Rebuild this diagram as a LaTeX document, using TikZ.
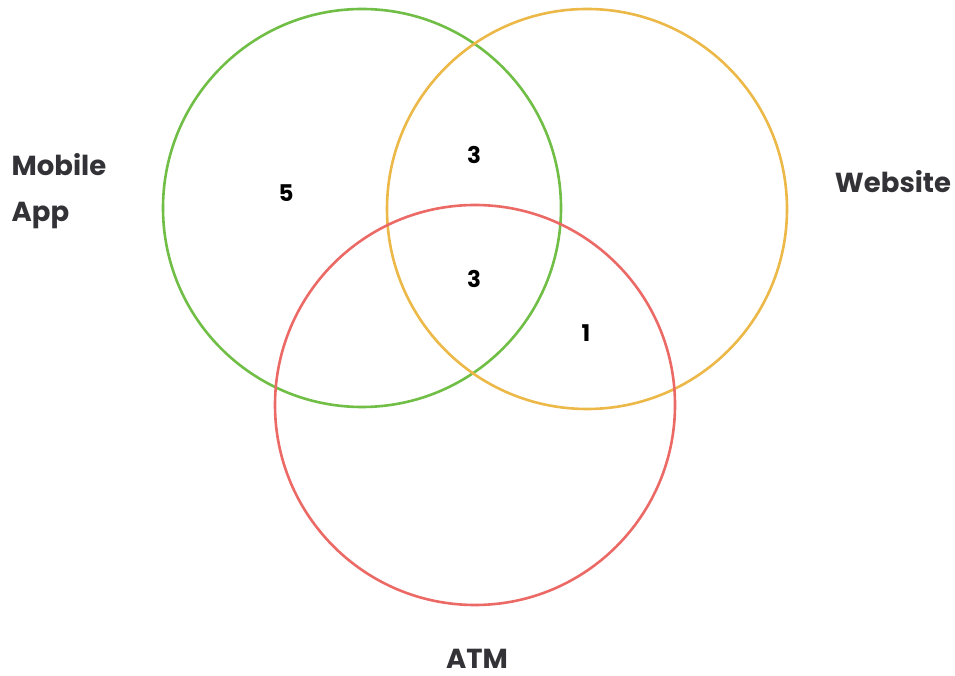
\documentclass[tikz,border=0pt]{standalone}
\usepackage{fontspec}
\setmainfont{Poppins}
\usepackage{xcolor}
\usetikzlibrary{positioning}
\definecolor{appcolor}{RGB}{112,190,70}
\definecolor{webcolor}{RGB}{236,184,72}
\definecolor{atmcolor}{RGB}{236,106,102}
\definecolor{labelcolor}{RGB}{50,50,55}

\begin{document}
\begin{tikzpicture}[
  x=1pt, y=1pt,
  ring/.style={draw, circle, line width=2.6pt, inner sep=0pt},
  setlabel/.style={font=\bfseries\fontsize{27.5}{46}\selectfont, text=labelcolor,
                   align=left, inner sep=1pt},
  count/.style={font=\bfseries\fontsize{23}{25}\selectfont, text=black}
]
\useasboundingbox (0,0) rectangle (955,675);

\node[ring, appcolor, minimum size=398pt] (app) at (362,467) {};
\node[ring, webcolor, minimum size=400pt] (web) at (587,466) {};
\node[ring, atmcolor, minimum size=400pt] (atm) at (475,270) {};

\node[setlabel] (applbl) at (59,484) {Mobile\\App};
\node[setlabel] (weblbl) at (893,493) {Website};
\node[setlabel] (atmlbl) at (477,16) {ATM};

\node[count] (onlyapp) at (286,482) {5};
\node[count] (appweb) at (474,520) {3};
\node[count] (all) at (474,396) {3};
\node[count] (webatm) at (586,342) {1};

\end{tikzpicture}
\end{document}
